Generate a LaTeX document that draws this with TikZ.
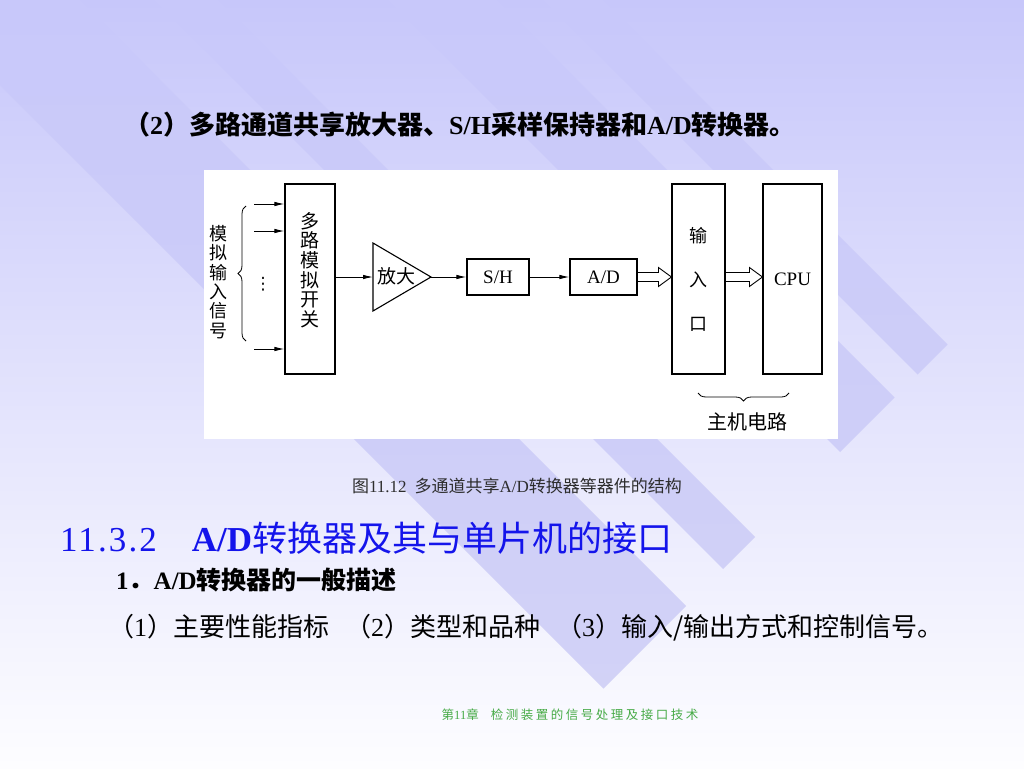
\documentclass[tikz,border=0pt]{standalone}
\usepackage{fontspec}
\setmainfont{Liberation Serif}
\newfontfamily\cjk{Noto Sans CJK SC}
\newfontfamily\lat{Liberation Serif}
\newfontfamily\djv{DejaVu Sans}
\usetikzlibrary{arrows.meta,calc,decorations.pathreplacing}
\definecolor{bgtop}{RGB}{199,199,250}
\definecolor{bgbot}{RGB}{253,253,255}
\definecolor{bandtop}{RGB}{200,200,250}
\definecolor{bandbot}{RGB}{211,211,246}
\definecolor{headblue}{RGB}{20,20,235}
\definecolor{capgray}{RGB}{45,45,45}
\definecolor{footgreen}{RGB}{70,170,70}
\newcommand\tmr[1]{{\lat #1}}
\newcommand\hollowarrow[2]{%
  \draw[hol] ($(#1)+(0,-4.5)$) -- ($(#2)+(-13,-4.5)$) -- ($(#2)+(-13,-9.5)$) -- (#2)
    -- ($(#2)+(-13,9.5)$) -- ($(#2)+(-13,4.5)$) -- ($(#1)+(0,4.5)$);}
\begin{document}
\begin{tikzpicture}[x=1pt,y=-1pt,
  blk/.style={draw=black, line width=1.1pt, fill=white, inner sep=0pt},
  sig/.style={line width=0.9pt, -{Latex[length=10pt,width=4.5pt]}},
  hol/.style={line width=0.9pt, line join=miter},
  vtxt/.style={align=center, inner sep=0pt},
  txt/.style={inner sep=0pt},
  brc/.style={line width=0.8pt, decorate, decoration={brace, amplitude=8pt}}]
\useasboundingbox (0,0) rectangle (1024,768);
\shade[top color=bgtop, bottom color=bgbot] (0,0) rectangle (1024,768);
\begin{scope}
\clip (947.5,344.5) -- (917.5,374.5) -- (121.5,-421.5) -- (151.5,-451.5) -- cycle
      (894.5,397.5) -- (840,452) -- (44,-344) -- (98.5,-398.5) -- cycle
      (755,537) -- (723,569) -- (-73,-227) -- (-41,-259) -- cycle
      (686,606) -- (603.5,688.5) -- (-192.5,-107.5) -- (-110,-190) -- cycle;
\shade[top color=bandtop, bottom color=bandbot] (0,0) rectangle (1024,768);
\end{scope}

% title line
\node[txt, font=\cjk\bfseries\fontsize{26}{30}\selectfont] (title) at (460,125)
  {（\tmr{\bfseries 2}）多路通道共享放大器、\tmr{\bfseries S/H}采样保持器和\tmr{\bfseries A/D}转换器。};

% figure
\fill[white] (204,170) rectangle (838,439);

\node[blk, minimum width=50pt, minimum height=190pt] (mux) at (310,279) {};
\node[vtxt, font=\cjk\fontsize{19}{19.6}\selectfont] (muxt) at (310,270) {多\\路\\模\\拟\\开\\关};
\node[vtxt, font=\cjk\fontsize{18}{19.4}\selectfont] (lbl) at (218,282) {模\\拟\\输\\入\\信\\号};

\coordinate (i1) at (254,204);
\coordinate (i2) at (254,231);
\coordinate (i3) at (254,349);
\foreach \c in {i1,i2,i3} \draw[sig] (\c) -- (\c -| mux.west);
\node[txt, font=\djv\fontsize{17}{17}\selectfont] (dots) at (263,284) {⋮};
\draw[brc] (246,341) -- (246,206);

\draw[line width=1.1pt, line join=miter] (373,243) -- (431,277) -- (373,311) -- cycle;
\coordinate (ampin) at (373,277);
\coordinate (ampout) at (431,277);
\node[txt, font=\cjk\fontsize{19}{20}\selectfont] (ampt) at (396,276) {放大};
\draw[sig] (mux.east |- ampin) -- (ampin);

\node[blk, minimum width=62pt, minimum height=36pt, font=\lat\fontsize{19}{20}\selectfont] (sh) at (498,277) {S/H};
\draw[sig] (ampout) -- (sh.west);
\node[blk, minimum width=67pt, minimum height=36pt, font=\lat\fontsize{19}{20}\selectfont] (ad) at (603.5,277) {A/D};
\draw[sig] (sh.east) -- (ad.west);

\node[blk, minimum width=53pt, minimum height=190pt, align=center, font=\cjk\fontsize{18}{44}\selectfont] (io) at (698.5,279) {输\\入\\口};
\node[blk, minimum width=59pt, minimum height=190pt, font=\lat\fontsize{19}{20}\selectfont] (cpu) at (792.5,279) {CPU};

\coordinate (h1a) at (ad.east);
\coordinate (h1b) at (ad.east -| io.west);
\hollowarrow{h1a}{h1b}
\coordinate (h2a) at (io.east |- ad.east);
\coordinate (h2b) at (h2a -| cpu.west);
\hollowarrow{h2a}{h2b}

\draw[brc] (789,393) -- (698,393);
\node[txt, font=\cjk\fontsize{20}{22}\selectfont] (host) at (747,422) {主机电路};

% caption and text
\node[txt, font=\cjk\fontsize{17}{19}\selectfont, text=capgray] (cap) at (517,486)
  {图\tmr{11.12}\hspace{8pt}多通道共享\tmr{A/D}转换器等器件的结构};
\node[txt, anchor=west, text=headblue, font=\cjk\fontsize{35}{40}\selectfont] (head) at (60,538)
  {\tmr{\addfontfeature{LetterSpace=6}11.3.2}\hspace{35pt}\tmr{\bfseries A/D}转换器及其与单片机的接口};
\node[txt, anchor=west, font=\cjk\bfseries\fontsize{25}{29}\selectfont] (s1) at (116,580)
  {\tmr{\bfseries 1}．\tmr{\bfseries A/D}转换器的一般描述};
\node[txt, anchor=west, font=\cjk\fontsize{26}{30}\selectfont] (s2) at (108,628)
  {（\tmr{1}）主要性能指标\hspace{16pt}（\tmr{2}）类型和品种\hspace{16pt}（\tmr{3}）输入/输出方式和控制信号。};
\node[txt, text=footgreen, font=\cjk\fontsize{12.5}{14}\selectfont\addfontfeature{LetterSpace=20}] (ft) at (570,715)
  {第\tmr{11}章\hspace{12pt}检测装置的信号处理及接口技术};
\end{tikzpicture}
\end{document}
